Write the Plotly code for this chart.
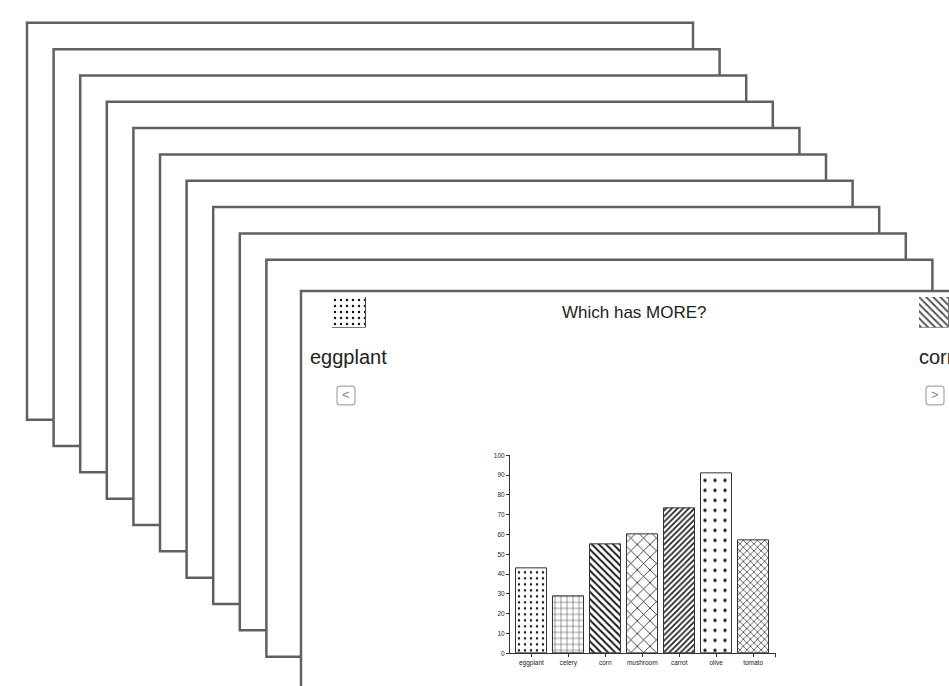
import plotly.graph_objects as go

W, H = 949, 686

# chart data
categories = ["eggplant", "celery", "corn", "mushroom", "carrot", "olive", "tomato"]
values = [43, 29, 55, 60, 73, 91, 57]
y_ticks = [0, 10, 20, 30, 40, 50, 60, 70, 80, 90, 100]

# fill pattern per vegetable: (shape, tile size, solidity)
patterns = {
    "eggplant": (".", 6, 0.13),
    "celery": ("+", 6, 0.14),
    "corn": ("\\", 5, 0.4),
    "mushroom": ("x", 9, 0.17),
    "carrot": ("/", 4, 0.4),
    "olive": (".", 10, 0.09),
    "tomato": ("x", 5, 0.24),
}

left_item, right_item = "eggplant", "corn"
title_text = "Which has MORE?"


def px_x(v):
    return v / W


def px_y(v):
    return 1 - v / H


fig = go.Figure()

# main bar chart
fig.add_trace(go.Bar(
    x=categories, y=values,
    width=0.84,
    marker=dict(
        color="white",
        line=dict(color="#333", width=1),
        pattern=dict(
            shape=[patterns[c][0] for c in categories],
            size=[patterns[c][1] for c in categories],
            solidity=[patterns[c][2] for c in categories],
            fgcolor="#1a1a1a", bgcolor="white", fillmode="replace",
        ),
    ),
    xaxis="x", yaxis="y", hoverinfo="skip", showlegend=False,
))

# option icons beside the question
for ax, item, fg, ln in [("2", left_item, "#111", "#444"), ("3", right_item, "#555", "#777")]:
    shp, size, sol = patterns[item]
    fig.add_trace(go.Bar(
        x=[0], y=[1], width=1,
        marker=dict(color="white", line=dict(color=ln, width=1),
                    pattern=dict(shape=shp, size=size, solidity=sol,
                                 fgcolor=fg, bgcolor="white", fillmode="replace")),
        xaxis="x" + ax, yaxis="y" + ax, hoverinfo="skip", showlegend=False,
    ))

# stacked cards
shapes = []
step = 26.6
for i in range(10):
    x0, y0 = 27 + step * i, 19 + step * i
    shapes.append(dict(type="rect", xref="paper", yref="paper", layer="below",
                       x0=px_x(x0), x1=px_x(x0 + 666), y0=px_y(y0), y1=px_y(y0 + 401),
                       fillcolor="white", line=dict(color="#606060", width=2.5)))
shapes.append(dict(type="rect", xref="paper", yref="paper", layer="below",
                   x0=px_x(301), x1=px_x(1010), y0=px_y(290), y1=px_y(720),
                   fillcolor="white", line=dict(color="#606060", width=2.5)))


def rounded_box(x0, y0, x1, y1, r):
    # rounded rectangle path in paper coordinates
    pts = [
        f"M{px_x(x0 + r)},{px_y(y0)}",
        f"L{px_x(x1 - r)},{px_y(y0)}",
        f"Q{px_x(x1)},{px_y(y0)} {px_x(x1)},{px_y(y0 + r)}",
        f"L{px_x(x1)},{px_y(y1 - r)}",
        f"Q{px_x(x1)},{px_y(y1)} {px_x(x1 - r)},{px_y(y1)}",
        f"L{px_x(x0 + r)},{px_y(y1)}",
        f"Q{px_x(x0)},{px_y(y1)} {px_x(x0)},{px_y(y1 - r)}",
        f"L{px_x(x0)},{px_y(y0 + r)}",
        f"Q{px_x(x0)},{px_y(y0)} {px_x(x0 + r)},{px_y(y0)}Z",
    ]
    return " ".join(pts)


# navigation buttons
for bx in (337, 926):
    shapes.append(dict(type="path", xref="paper", yref="paper", layer="below",
                       path=rounded_box(bx, 386, bx + 18, 405, 3),
                       fillcolor="white", line=dict(color="#a8a8a8", width=1.2)))

# outer end tick of the category axis
shapes.append(dict(type="line", xref="paper", yref="paper",
                   x0=px_x(775.5), x1=px_x(775.5), y0=px_y(656), y1=px_y(660),
                   line=dict(color="#333", width=1)))

annotations = [
    dict(text=title_text, x=px_x(634), y=px_y(312), xref="paper", yref="paper",
         showarrow=False, font=dict(size=17, color="#222", family="Liberation Sans"),
         xanchor="center", yanchor="middle"),
    dict(text=left_item, x=px_x(348), y=px_y(357), xref="paper", yref="paper",
         showarrow=False, font=dict(size=20, color="#222", family="Liberation Sans"),
         xanchor="center", yanchor="middle"),
    dict(text=right_item, x=px_x(917), y=px_y(357), xref="paper", yref="paper",
         showarrow=False, font=dict(size=20, color="#222", family="Liberation Sans"),
         xanchor="left", yanchor="middle"),
    dict(text="&lt;", x=px_x(346), y=px_y(395), xref="paper", yref="paper",
         showarrow=False, font=dict(size=13, color="#888", family="Liberation Sans"),
         xanchor="center", yanchor="middle"),
    dict(text="&gt;", x=px_x(935), y=px_y(395), xref="paper", yref="paper",
         showarrow=False, font=dict(size=13, color="#888", family="Liberation Sans"),
         xanchor="center", yanchor="middle"),
]

axis_font = dict(size=6.5, color="#222", family="Liberation Sans")
hidden = dict(visible=False, fixedrange=True)

fig.update_layout(
    width=W, height=H,
    margin=dict(l=0, r=0, t=0, b=0),
    paper_bgcolor="white", plot_bgcolor="rgba(0,0,0,0)",
    shapes=shapes, annotations=annotations,
    bargap=0,
    xaxis=dict(domain=[px_x(510), px_x(776)], range=[-0.58, 6.62],
               showline=True, linecolor="#333", linewidth=1,
               ticks="outside", ticklen=3, tickcolor="#333", tickwidth=1,
               tickfont=axis_font, showgrid=False, zeroline=False, fixedrange=True),
    yaxis=dict(domain=[px_y(656), px_y(456)], range=[0, 100],
               tickvals=y_ticks, ticktext=[str(t) for t in y_ticks],
               showline=True, linecolor="#333", linewidth=1,
               ticks="outside", ticklen=3, tickcolor="#333", tickwidth=1,
               tickfont=axis_font, showgrid=False, zeroline=False, fixedrange=True),
    xaxis2=dict(domain=[px_x(332), px_x(366)], range=[-0.5, 0.5], **hidden),
    yaxis2=dict(domain=[px_y(327), px_y(296)], range=[0, 1], **hidden),
    xaxis3=dict(domain=[px_x(919), 1.0], range=[-0.5, 0.5], **hidden),
    yaxis3=dict(domain=[px_y(327), px_y(296)], range=[0, 1], **hidden),
)

fig.write_html("out.html")
